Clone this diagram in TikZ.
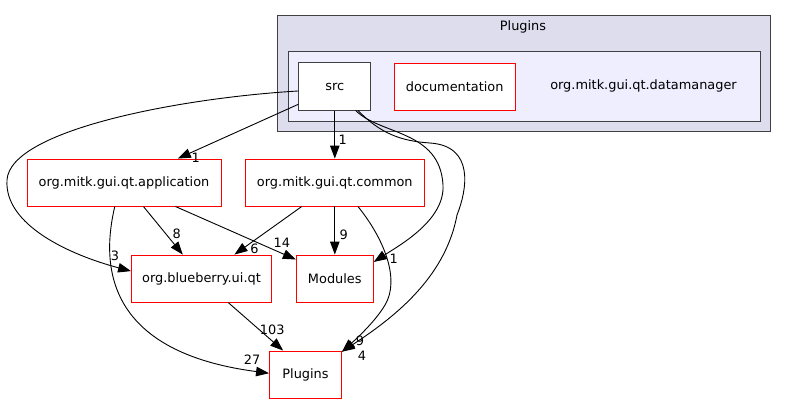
\documentclass[tikz,border=0pt]{standalone}
\usepackage{fontspec}
\setmainfont{DejaVu Sans}
\usetikzlibrary{arrows.meta,positioning}

\definecolor{clusterout}{HTML}{DDDDEE}
\definecolor{clusterin}{HTML}{EEEEFF}
\definecolor{framegray}{HTML}{404040}

\begin{document}
\begin{tikzpicture}[x=1pt, y=-1pt, node distance=96pt,
                    font=\fontsize{12.9}{15}\selectfont,
                    dir node/.style={rectangle,draw=red,fill=white,line width=0.9pt,minimum height=47pt,inner sep=0pt},
                    src node/.style={rectangle,draw=framegray,fill=white,line width=1pt,minimum height=47pt,inner sep=0pt},
                    cluster/.style={draw=framegray,line width=1pt},
                    dep/.style={draw=black,line width=0.9pt,-{Triangle[length=13pt,width=9.5pt]}},
                    num/.style={inner sep=0pt}]

  \useasboundingbox (0,0) rectangle (787,404);

  % clusters
  \draw[cluster, fill=clusterout] (277.5,16) rectangle (770.5,131.5);
  \node (pluginslbl) at (523,27) {Plugins};
  \draw[cluster, fill=clusterin] (288,51.5) rectangle (760,121);
  \node (dmlbl) at (643.5,86) {org.mitk.gui.qt.datamanager};

  % directories
  \node[src node, minimum width=72pt] (src) at (334.8,86.5) {src};
  \node[dir node, minimum width=121pt] (doc) at (454.7,86.5) {documentation};
  \node[dir node, minimum width=179pt] (common) [below of=src] {org.mitk.gui.qt.common};
  \node[dir node, minimum width=77pt] (modules) [below of=common] {Modules};
  \node[dir node, minimum width=194pt] (app) at (124,182.5) {org.mitk.gui.qt.application};
  \node[dir node, minimum width=140pt] (blue) at (201.5,278.5) {org.blueberry.ui.qt};
  \node[dir node, minimum width=72pt] (plugins) at (305.5,374.5) {Plugins};

  \path[every edge/.style={dep}, every node/.style={num, pos=1}]

    (src.206) edge node [xshift=18pt, yshift=1pt] {1} (app.24)
    (src) edge node [xshift=8pt, yshift=19pt] {1} (common)

    (app.-51) edge node [xshift=-6pt, yshift=21pt] {8} (blue.128)
    (app.-25) edge node [xshift=-14pt, yshift=17pt] {14} (modules.154)

    (common.-144) edge node [xshift=20pt, yshift=6pt] {6} (blue.36)
    (common) edge node [xshift=9pt, yshift=20pt] {9} (modules)

    (blue.-42) edge node [xshift=-11pt, yshift=21pt] {103} (plugins.133);

  % curved ones
  \draw[dep] (src.187) .. controls (180,98) and (10,130) .. (7,180)
             .. controls (4,225) and (70,255) .. (blue.174)
             node[num, pos=1, xshift=-16pt, yshift=15pt] {3};
  \draw[dep] (src.-49) .. controls (380,135) and (440,130) .. (443,185)
             .. controls (445,220) and (400,245) .. (modules.23)
             node[num, pos=1, xshift=20pt, yshift=3pt] {1};
  \draw[dep] (src.-46) .. controls (380,133) and (400,141) .. (430,143)
             .. controls (475,146) and (467,190) .. (457,215)
             .. controls (445,280) and (390,320) .. (plugins.32)
             node[num, pos=1, xshift=20pt, yshift=-4pt] {4};
  \draw[dep] (common.-46) .. controls (385,240) and (400,280) .. (385,305)
             .. controls (375,322) and (355,340) .. (plugins.32)
             node[num, pos=1, xshift=18pt, yshift=11pt] {9};
  \draw[dep] (app.-111) .. controls (95,290) and (130,355) .. (plugins.178)
             node[num, pos=1, xshift=-17pt, yshift=14pt] {27};

\end{tikzpicture}
\end{document}
